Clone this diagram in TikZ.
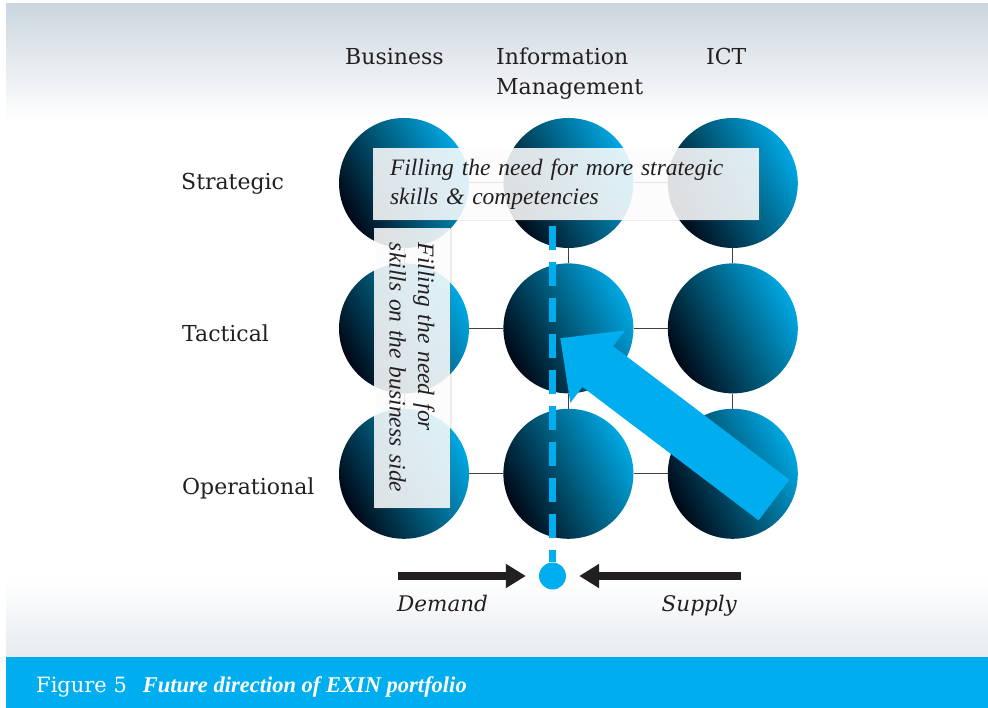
\documentclass[tikz,border=0pt]{standalone}
\usepackage{fontspec}
\setmainfont{DejaVu Serif}
\newfontfamily\notefont{Liberation Serif}
\usetikzlibrary{positioning,arrows.meta,shadows}

\definecolor{exinblue}{RGB}{0,174,239}
\definecolor{ballhi}{RGB}{0,168,228}
\definecolor{ballmid}{RGB}{0,90,122}
\definecolor{balllo}{RGB}{0,8,22}
\definecolor{inkgray}{RGB}{35,31,32}
\definecolor{bggray}{RGB}{204,214,222}
\definecolor{bglight}{RGB}{230,235,239}

\pgfdeclarelayer{back}
\pgfdeclarelayer{grid}
\pgfsetlayers{back,grid,main}

\pgfdeclareverticalshading{backdrop}{100bp}{color(0bp)=(bglight); color(25bp)=(bglight); color(31bp)=(white); color(66bp)=(white); color(75bp)=(bggray); color(100bp)=(bggray)}

\tikzset{
  ball/.style={circle, minimum size=130pt, inner sep=0pt,
    top color=ballhi, bottom color=balllo, middle color=ballmid, shading angle=-62},
  gridline/.style={draw=black!75, line width=1pt},
  notebox/.style={fill=white, fill opacity=0.86, text opacity=1, text=inkgray,
    font=\notefont\itshape\fontsize{23.5}{28.5}\selectfont, align=left,
    drop shadow={opacity=0.15, shadow xshift=1.5pt, shadow yshift=-1.5pt}},
  lbl/.style={text=inkgray, font=\fontsize{22}{30}\selectfont, inner sep=0pt},
  flowlbl/.style={text=inkgray, font=\itshape\fontsize{21.5}{26}\selectfont, inner sep=0pt},
  pusharrow/.style={draw=inkgray, line width=7.5pt,
    -{Triangle[length=20pt,width=23pt]}, shorten >=13pt},
  imline/.style={draw=exinblue, line width=7pt, dash pattern=on 24pt off 12pt},
}

\begin{document}
\begin{tikzpicture}[x=1pt,y=1pt]
  \useasboundingbox (0,0) rectangle (988,708);
  % Background
  \begin{pgfonlayer}{back}
    \fill[white] (0,0) rectangle (988,708);
    \shade[shading=backdrop] (6,51) rectangle (988,704);
    \fill[exinblue] (6,0) rectangle (988,51);
  \end{pgfonlayer}

  % Define nodes
  \node[ball] at (404,525)          (bs) {};
  \node[ball, right=34pt of bs] (is) {};
  \node[ball, right=34pt of is] (cs) {};
  \node[ball, below=15pt of bs] (bt) {};
  \node[ball, below=15pt of is] (it) {};
  \node[ball, below=15pt of cs] (ct) {};
  \node[ball, below=15pt of bt] (bo) {};
  \node[ball, below=15pt of it] (io) {};
  \node[ball, below=15pt of ct] (co) {};

  \node[lbl, anchor=base west] at (345,643) (business) {Business};
  \node[lbl, anchor=north west, align=left] at (496,660) (infoman) {Information\\Management};
  \node[lbl, anchor=base west] at (706,643) (ict) {ICT};

  \node[lbl, anchor=base west] at (181,518) (strategic) {Strategic};
  \node[lbl, anchor=base west] at (182,366) (tactical) {Tactical};
  \node[lbl, anchor=base west] at (182,213) (operational) {Operational};

  \node[circle, fill=exinblue, minimum size=27pt, inner sep=0pt] at (552.5,132) (hub) {};
  \coordinate (dem) at (398,132);
  \coordinate (sup) at (741,132);
  \node[flowlbl, anchor=base west] at (397,96) (demand) {Demand};
  \node[flowlbl, anchor=base east] at (737,96) (supply) {Supply};

  % Connect nodes
  \begin{pgfonlayer}{grid}
    \draw[gridline] (bs) -- (is) -- (cs);
    \draw[gridline] (bt) -- (it) -- (ct);
    \draw[gridline] (bo) -- (io) -- (co);
    \draw[gridline] (bs) -- (bt) -- (bo);
    \draw[gridline] (is) -- (it) -- (io);
    \draw[gridline] (cs) -- (ct) -- (co);
  \end{pgfonlayer}

  \node[notebox, minimum width=386pt, minimum height=72pt, text width=352pt,
    inner xsep=17pt] at (566,524) (need)
    {Filling the need for more strategic\\skills \& competencies};
  \node[notebox, rotate=-90, minimum width=280pt, minimum height=76pt,
    text width=250pt, inner xsep=15pt] at (412,340) (side)
    {Filling the need for\\skills on the business side};

  \draw[imline] ([yshift=-6pt]hub |- need.south) -- (hub);
  \draw[pusharrow] (dem) -- (hub);
  \draw[pusharrow] (sup) -- (hub);

  % Shift towards information management
  \begin{scope}[shift={(774,208)}, rotate=142.87]
    \fill[exinblue] (0,-25.5) -- (221,-25.5) -- (221,-45.5) -- (268,0)
      -- (221,45.5) -- (221,25.5) -- (0,25.5) -- cycle;
  \end{scope}

  \node[anchor=base west, text=white, inner sep=0pt] at (36,15) (caption)
    {\fontsize{21}{24}\selectfont Figure 5\hspace{16pt}{\notefont\bfseries\itshape\fontsize{22.5}{24}\selectfont Future direction of EXIN portfolio}};
\end{tikzpicture}
\end{document}
